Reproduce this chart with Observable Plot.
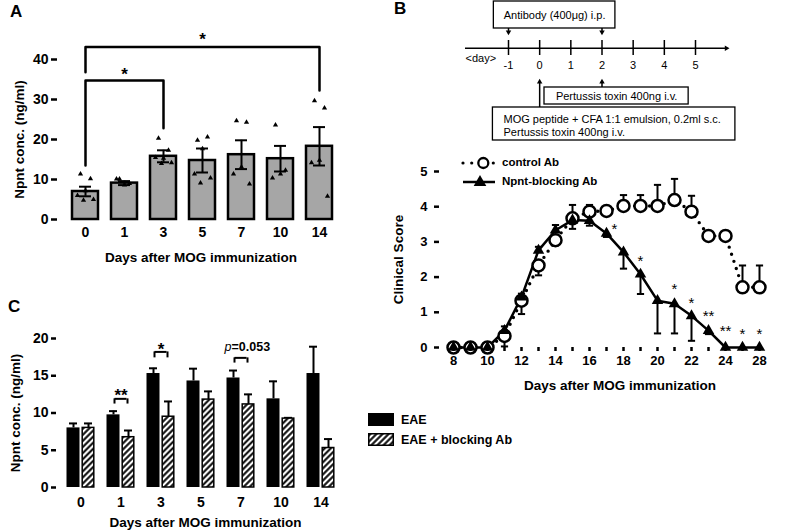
<!DOCTYPE html>
<html>
<head>
<meta charset="utf-8">
<script src="https://cdn.jsdelivr.net/npm/d3@7"></script>
<script src="https://cdn.jsdelivr.net/npm/@observablehq/plot@0.6"></script>
<style>
html,body{margin:0;padding:0;background:#fff;}
#root{position:relative;width:800px;height:530px;overflow:hidden;font-family:"Liberation Sans",Arial,sans-serif;color:#000;}
.abs{position:absolute;}
.letter{position:absolute;font-weight:bold;font-size:17px;line-height:17px;}
.lg{position:absolute;font-weight:bold;white-space:nowrap;line-height:1;}
</style>
</head>
<body>
<div id="root">
  <div class="letter" style="left:10px;top:3px;">A</div>
  <div class="letter" style="left:394px;top:0px;">B</div>
  <div class="letter" style="left:8px;top:298px;">C</div>
  <div id="pA" class="abs" style="left:0;top:0;width:350px;height:270px;"></div>
  <div id="pBt" class="abs" style="left:440px;top:0;width:360px;height:145px;"></div>
  <div id="pB" class="abs" style="left:390px;top:150px;width:410px;height:250px;"></div>
  <div id="pC" class="abs" style="left:0;top:320px;width:370px;height:210px;"></div>

  <svg class="abs" style="left:460px;top:154px" width="40" height="36">
    <circle cx="3" cy="9" r="1.6" fill="#000"/>
    <circle cx="11.7" cy="9" r="1.6" fill="#000"/>
    <circle cx="33.3" cy="9" r="1.6" fill="#000"/>
    <circle cx="23.3" cy="9" r="5" fill="#fff" stroke="#000" stroke-width="2.3"/>
    <line x1="3" y1="28" x2="35" y2="28" stroke="#000" stroke-width="2.5"/>
    <path d="M20,21L26.3,32L13.7,32Z" fill="#000"/>
  </svg>
  <div class="lg" style="left:502px;top:157px;font-size:11.5px;">control Ab</div>
  <div class="lg" style="left:502px;top:176px;font-size:11.5px;">Npnt-blocking Ab</div>

  <svg class="abs" style="left:366px;top:411px" width="32" height="38">
    <defs>
      <pattern id="hatchL" patternUnits="userSpaceOnUse" width="4.3" height="4.3" patternTransform="rotate(45)">
        <rect width="4.3" height="4.3" fill="#fff"/>
        <line x1="2.15" y1="-1" x2="2.15" y2="6" stroke="#000" stroke-width="2"/>
      </pattern>
    </defs>
    <rect x="2" y="2" width="26" height="13" fill="#000"/>
    <rect x="2.75" y="22.75" width="24.5" height="11.5" fill="url(#hatchL)" stroke="#000" stroke-width="1.5"/>
  </svg>
  <div class="lg" style="left:401px;top:414px;font-size:12.5px;">EAE</div>
  <div class="lg" style="left:401px;top:434px;font-size:12.5px;">EAE + blocking Ab</div>
</div>

<script>
const FONT = '"Liberation Sans", Arial, sans-serif';

// ---------------- Panel A data ----------------
const daysA = ["0", "1", "3", "5", "7", "10", "14"];
const meanA = [7.0, 9.1, 15.8, 14.75, 16.2, 15.2, 18.3];
const semA = [1.2, 0.5, 1.5, 3.0, 3.6, 3.2, 4.8];
const pointsA = [
  [11.4, 10.2, 7.2, 6.0, 5.0, 4.8],
  [10.1, 9.0, 8.6, 10.1],
  [20.3, 17.3, 15.3, 15.5, 14.2, 14.0],
  [19.8, 20.6, 17.7, 11.4, 10.4, 9.1],
  [24.7, 24.3, 13.1, 11.4, 8.9],
  [23.6, 12.3, 11.4, 10.4],
  [29.7, 27.9, 14.8, 14.2, 5.8]
];
const yTicksA = [0, 10, 20, 30, 40];
const bracketsA = [
  {from: "0", to: "14", top: 43.1, leftEnd: 36.8, rightEnd: 32.25, mark: "*", at: "5", markY: 46},
  {from: "0", to: "3", top: 34.75, leftEnd: 13.5, rightEnd: 22.8, mark: "*", at: "1", markY: 37.3}
];

// ---------------- Panel B data ----------------
const timelineDays = [-1, 0, 1, 2, 3, 4, 5];
const antibodyDays = [-1, 2];
const pertussisDays = [2];
const mogDays = [0];

const daysB = ["8","9","10","11","12","13","14","15","16","17","18","19","20","21","22","23","24","26","28"];
const controlAb   = [0,0,0,0.33,1.33,2.33,3.05,3.67,3.86,3.88,4.02,4.02,4.02,4.19,3.86,3.17,3.17,1.71,1.71];
const controlSem  = [0,0,0,0.30,0.38,0.28,0.15,0.38,0.19,0,0.31,0.31,0.60,0.60,0.45,0.1,0.1,0.62,0.62];
const blockingAb  = [0,0,0,0.48,1.43,2.76,3.33,3.62,3.60,3.24,2.71,2.08,1.33,1.24,0.90,0.48,0,0,0];
const blockingSem = [0,0,0,0.12,0.10,0.10,0.15,0.25,0.14,0.1,0.47,0.56,0.93,0.84,0.71,0.1,0,0,0];
const yTicksB = [0, 1, 2, 3, 4, 5];
const starsB = [
  {day: "17", y: 3.48, text: "*"}, {day: "19", y: 2.57, text: "*"},
  {day: "21", y: 1.76, text: "*"}, {day: "22", y: 1.38, text: "*"},
  {day: "23", y: 1.0, text: "**"}, {day: "24", y: 0.57, text: "**"},
  {day: "26", y: 0.48, text: "*"}, {day: "28", y: 0.48, text: "*"}
];

// ---------------- Panel C data ----------------
const daysC = ["0", "1", "3", "5", "7", "10", "14"];
const eae = [8.0, 9.75, 15.3, 14.3, 14.7, 11.9, 15.3];
const eaeSem = [0.6, 0.5, 0.7, 1.65, 1.0, 2.35, 3.6];
const eaeBlocking = [8.0, 6.75, 9.5, 11.8, 11.15, 9.25, 5.3];
const eaeBlockingSem = [0.6, 0.9, 2.05, 1.1, 1.35, 0.1, 1.2];
const yTicksC = [0, 5, 10, 15, 20];
const bracketsC = [
  {day: "1", top: 11.9, leg: 11.2, label: "**", labelY: 12.9},
  {day: "3", top: 18.2, leg: 17.4, label: "*", labelY: 19.1},
  {day: "7", top: 17.4, leg: 16.7, label: "p=0.053", labelY: 18.9}
];

// ================= Panel A =================
const tableA = daysA.map((d, i) => ({day: d, mean: meanA[i], sem: semA[i]}));
const ptsA = pointsA.flatMap((vals, i) => vals.map((v, k) => ({day: daysA[i], value: v, slot: k})));
const slotDx = [-5, 5, 0, -8, 8, -2];
const bracketLinesA = bracketsA.flatMap((b, k) => [
  {k, x: b.from, y: b.leftEnd}, {k, x: b.from, y: b.top},
  {k, x: b.to, y: b.top}, {k, x: b.to, y: b.rightEnd}
]);

const plotA = Plot.plot({
  width: 350, height: 270,
  marginLeft: 57, marginRight: 10, marginTop: 59, marginBottom: 51,
  style: {fontFamily: FONT, fontSize: "14px", fontWeight: "bold", background: "transparent", overflow: "visible"},
  x: {type: "band", domain: daysA, range: [70, 334], paddingInner: 0.345, paddingOuter: 0},
  y: {domain: [0, 40]},
  marks: [
    Plot.barY(tableA, {x: "day", y: "mean", fill: "#a6a6a6", stroke: "#000", strokeWidth: 2.5}),
    Plot.ruleX(tableA, {x: "day", y1: d => d.mean - d.sem, y2: d => d.mean + d.sem, stroke: "#000", strokeWidth: 2}),
    Plot.tickY(tableA, {x: "day", y: d => d.mean + d.sem, insetLeft: 7, insetRight: 7, stroke: "#000", strokeWidth: 2}),
    Plot.tickY(tableA, {x: "day", y: d => d.mean - d.sem, insetLeft: 7, insetRight: 7, stroke: "#000", strokeWidth: 2}),
    ...slotDx.map((dx, s) => Plot.dot(ptsA.filter(p => p.slot === s), {x: "day", y: "value", dx, symbol: "triangle2", r: 2.5, fill: "#000"})),
    Plot.line(bracketLinesA, {x: "x", y: "y", z: "k", stroke: "#000", strokeWidth: 2.5}),
    Plot.text(bracketsA, {x: "at", y: "markY", text: "mark", fontSize: 17, dy: 4}),
    Plot.axisY({ticks: yTicksA, tickSize: 6, tickPadding: 3, line: true, strokeWidth: 2.5, fontSize: 14, fontWeight: "bold", label: null}),
    Plot.axisX({tickSize: 0, tickPadding: 8, line: true, strokeWidth: 2.5, fontSize: 14, fontWeight: "bold", label: null}),
    Plot.text(["Npnt conc. (ng/ml)"], {frameAnchor: "left", textAnchor: "middle", lineAnchor: "middle", rotate: -90, dx: -38, fontSize: 13.5, fontWeight: "bold"}),
    Plot.text(["Days after MOG immunization"], {frameAnchor: "bottom", textAnchor: "middle", lineAnchor: "middle", dy: 38, dx: 2, fontSize: 13.5, fontWeight: "bold"})
  ]
});
document.getElementById("pA").append(plotA);

// ================= Panel B timeline =================
const plotBt = Plot.plot({
  width: 360, height: 145, margin: 0,
  style: {fontFamily: FONT, fontSize: "11px", background: "transparent", overflow: "visible"},
  x: {domain: [-1, 5], range: [68, 255], axis: null},
  y: {domain: [0, 145], range: [0, 145], axis: null},
  marks: [
    Plot.ruleY([47.7], {x1: -2.38, x2: 5.99, stroke: "#000", strokeWidth: 1.5}),
    Plot.dot([5.99], {x: d => d, y: 47.7, symbol: "triangle2", rotate: 90, r: 2.6, fill: "#000"}),
    Plot.ruleX(timelineDays, {x: d => d, y1: 40, y2: 55, stroke: "#000", strokeWidth: 1.5}),
    Plot.text(timelineDays, {x: d => d, y: 65, text: d => String(d)}),
    Plot.text(["<day>"], {x: -2.38, y: 58, textAnchor: "start"}),
    Plot.rect([0], {x1: -1.47, x2: 2.43, y1: 1, y2: 28, fill: "#fff", stroke: "#000", strokeWidth: 1.3}),
    Plot.text(["Antibody (400\u03bcg) i.p."], {x: 0.48, y: 14.5}),
    Plot.ruleX(antibodyDays, {x: d => d, y1: 28, y2: 31, stroke: "#000", strokeWidth: 1.5}),
    Plot.dot(antibodyDays, {x: d => d, y: 31.5, symbol: "triangle2", rotate: 180, r: 2.6, fill: "#000"}),
    Plot.ruleX(pertussisDays, {x: d => d, y1: 87, y2: 82, stroke: "#000", strokeWidth: 1.5}),
    Plot.dot(pertussisDays, {x: d => d, y: 81.5, symbol: "triangle2", r: 2.6, fill: "#000"}),
    Plot.rect([0], {x1: 0.155, x2: 4.78, y1: 87, y2: 104, fill: "#fff", stroke: "#000", strokeWidth: 1.3}),
    Plot.text(["Pertussis toxin 400ng i.v."], {x: 2.47, y: 96}),
    Plot.ruleX(mogDays, {x: d => d, y1: 107, y2: 82, stroke: "#000", strokeWidth: 1.5}),
    Plot.dot(mogDays, {x: d => d, y: 81.5, symbol: "triangle2", r: 2.6, fill: "#000"}),
    Plot.rect([0], {x1: -1.5, x2: 6.28, y1: 107, y2: 140, fill: "#fff", stroke: "#000", strokeWidth: 1.3}),
    Plot.text(["MOG peptide + CFA 1:1 emulsion, 0.2ml s.c."], {x: -1.16, y: 118.5, textAnchor: "start"}),
    Plot.text(["Pertussis toxin 400ng i.v."], {x: -1.16, y: 131.5, textAnchor: "start"})
  ]
});
document.getElementById("pBt").append(plotBt);

// ================= Panel B score =================
const tableB = daysB.map((d, i) => ({
  day: d, control: controlAb[i], cSem: controlSem[i], block: blockingAb[i], bSem: blockingSem[i]
}));
const ctrlErr = tableB.filter(d => d.cSem > 0).map(d => ({day: d.day, from: d.control, to: d.control >= d.block ? d.control + d.cSem : d.control - d.cSem}));
const blkErr = tableB.filter(d => d.bSem > 0).map(d => ({day: d.day, from: d.block, to: d.block > d.control ? d.block + d.bSem : d.block - d.bSem}));
const evenLabels = new Set(daysB.filter((d, i) => i % 2 === 0));
const capSymbol = {draw(ctx) { ctx.moveTo(-3.6, 0); ctx.lineTo(3.6, 0); }};

const plotB = Plot.plot({
  width: 410, height: 250,
  marginLeft: 49, marginRight: 10, marginTop: 21, marginBottom: 53,
  style: {fontFamily: FONT, fontSize: "13px", fontWeight: "bold", background: "transparent", overflow: "visible"},
  x: {type: "point", domain: daysB, range: [49, 382]},
  y: {domain: [0, 5]},
  marks: [
    Plot.line(tableB, {x: "day", y: "control", stroke: "#000", strokeWidth: 3.4, strokeDasharray: "0,7.5", strokeLinecap: "round"}),
    Plot.line(tableB, {x: "day", y: "block", stroke: "#000", strokeWidth: 2.5}),
    Plot.ruleX(ctrlErr, {x: "day", y1: "from", y2: "to", stroke: "#000", strokeWidth: 2}),
    Plot.dot(ctrlErr, {x: "day", y: "to", symbol: capSymbol, stroke: "#000", strokeWidth: 2}),
    Plot.ruleX(blkErr, {x: "day", y1: "from", y2: "to", stroke: "#000", strokeWidth: 2}),
    Plot.dot(blkErr, {x: "day", y: "to", symbol: capSymbol, stroke: "#000", strokeWidth: 2}),
    Plot.dot(tableB, {x: "day", y: "control", r: 6, fill: "#fff", stroke: "#000", strokeWidth: 2.5}),
    Plot.dot(tableB, {x: "day", y: "block", symbol: "triangle2", r: 5.5, fill: "#000"}),
    Plot.text(starsB.filter(s => s.day === "17"), {x: "day", y: "y", text: "text", fontSize: 15, fontWeight: "normal", dy: 4, dx: 8}),
    Plot.text(starsB.filter(s => s.day !== "17"), {x: "day", y: "y", text: "text", fontSize: 15, fontWeight: "normal", dy: 4}),
    Plot.axisY({ticks: yTicksB, tickFormat: d => String(d), tickSize: 5, tickPadding: 7, line: true, strokeWidth: 2.5, fontSize: 13, fontWeight: "bold", label: null}),
    Plot.axisX({ticks: daysB, tickSize: 4, tickPadding: 4, tickFormat: d => evenLabels.has(d) ? d : "", line: true, strokeWidth: 2.5, fontSize: 13, fontWeight: "bold", label: null}),
    Plot.text(["Clinical Score"], {frameAnchor: "left", textAnchor: "middle", lineAnchor: "middle", rotate: -90, dx: -41, fontSize: 13.5, fontWeight: "bold"}),
    Plot.text(["Days after MOG immunization"], {frameAnchor: "bottom", textAnchor: "middle", lineAnchor: "middle", dy: 38, dx: 5, fontSize: 13.5, fontWeight: "bold"})
  ]
});
document.getElementById("pB").append(plotB);

// ================= Panel C =================
const tableC = daysC.map((d, i) => ({day: d, eae: eae[i], eaeSem: eaeSem[i], blk: eaeBlocking[i], blkSem: eaeBlockingSem[i]}));
const plotC = Plot.plot({
  width: 370, height: 210,
  marginLeft: 56, marginRight: 22, marginTop: 18, marginBottom: 43,
  style: {fontFamily: FONT, fontSize: "14px", fontWeight: "bold", background: "transparent", overflow: "visible"},
  x: {type: "band", domain: daysC, range: [63, 338], paddingInner: 0.265, paddingOuter: 0},
  y: {domain: [0, 20]},
  marks: [
    Plot.ruleX(tableC, {x: "day", y1: "eae", y2: d => d.eae + d.eaeSem, dx: -7.5, stroke: "#000", strokeWidth: 2}),
    Plot.tickY(tableC, {x: "day", y: d => d.eae + d.eaeSem, insetLeft: 3, insetRight: 18, stroke: "#000", strokeWidth: 2}),
    Plot.ruleX(tableC, {x: "day", y1: "blk", y2: d => d.blk + d.blkSem, dx: 7.5, stroke: "#000", strokeWidth: 2}),
    Plot.tickY(tableC, {x: "day", y: d => d.blk + d.blkSem, insetLeft: 18, insetRight: 3, stroke: "#000", strokeWidth: 2}),
    Plot.barY(tableC, {x: "day", y: "eae", fill: "#000", insetLeft: 0.5, insetRight: 15.5}),
    Plot.barY(tableC, {x: "day", y: "blk", fill: "url(#hatchC)", stroke: "#000", strokeWidth: 1.5, insetLeft: 16.2, insetRight: 1.2}),
    Plot.tickY(bracketsC, {x: "day", y: "top", insetLeft: 8.5, insetRight: 8.5, stroke: "#000", strokeWidth: 2}),
    Plot.ruleX(bracketsC, {x: "day", y1: "leg", y2: "top", dx: -6.5, stroke: "#000", strokeWidth: 2}),
    Plot.ruleX(bracketsC, {x: "day", y1: "leg", y2: "top", dx: 6.5, stroke: "#000", strokeWidth: 2}),
    Plot.text(bracketsC.filter(b => b.label.startsWith("*")), {x: "day", y: "labelY", text: "label", fontSize: 17, dy: 4}),
    Plot.text(bracketsC.filter(b => !b.label.startsWith("*")), {x: "day", y: "labelY", text: b => b.label.slice(0, 1), fontSize: 12.5, fontStyle: "italic", fontWeight: "normal", textAnchor: "end", dx: -9.5}),
    Plot.text(bracketsC.filter(b => !b.label.startsWith("*")), {x: "day", y: "labelY", text: b => b.label.slice(1), fontSize: 12.5, textAnchor: "start", dx: -9.5}),
    Plot.axisY({ticks: yTicksC, tickSize: 5, tickPadding: 3, line: true, strokeWidth: 2.5, fontSize: 14, fontWeight: "bold", label: null}),
    Plot.axisX({tickSize: 0, tickPadding: 10, line: true, strokeWidth: 2.5, fontSize: 14, fontWeight: "bold", label: null}),
    Plot.text(["Npnt conc. (ng/ml)"], {frameAnchor: "left", textAnchor: "middle", lineAnchor: "middle", rotate: -90, dx: -41, fontSize: 13.5, fontWeight: "bold"}),
    Plot.text(["Days after MOG immunization"], {frameAnchor: "bottom", textAnchor: "middle", lineAnchor: "middle", dy: 35, dx: 3, fontSize: 13.5, fontWeight: "bold"})
  ]
});
const ns = "http://www.w3.org/2000/svg";
const defs = document.createElementNS(ns, "defs");
defs.innerHTML = '<pattern id="hatchC" patternUnits="userSpaceOnUse" width="4.3" height="4.3" patternTransform="rotate(45)"><rect width="4.3" height="4.3" fill="#fff"/><line x1="2.15" y1="-1" x2="2.15" y2="6" stroke="#000" stroke-width="2"/></pattern>';
const svgC = plotC.tagName.toLowerCase() === "svg" ? plotC : plotC.querySelector("svg");
svgC.insertBefore(defs, svgC.firstChild);
document.getElementById("pC").append(plotC);
</script>
</body>
</html>
